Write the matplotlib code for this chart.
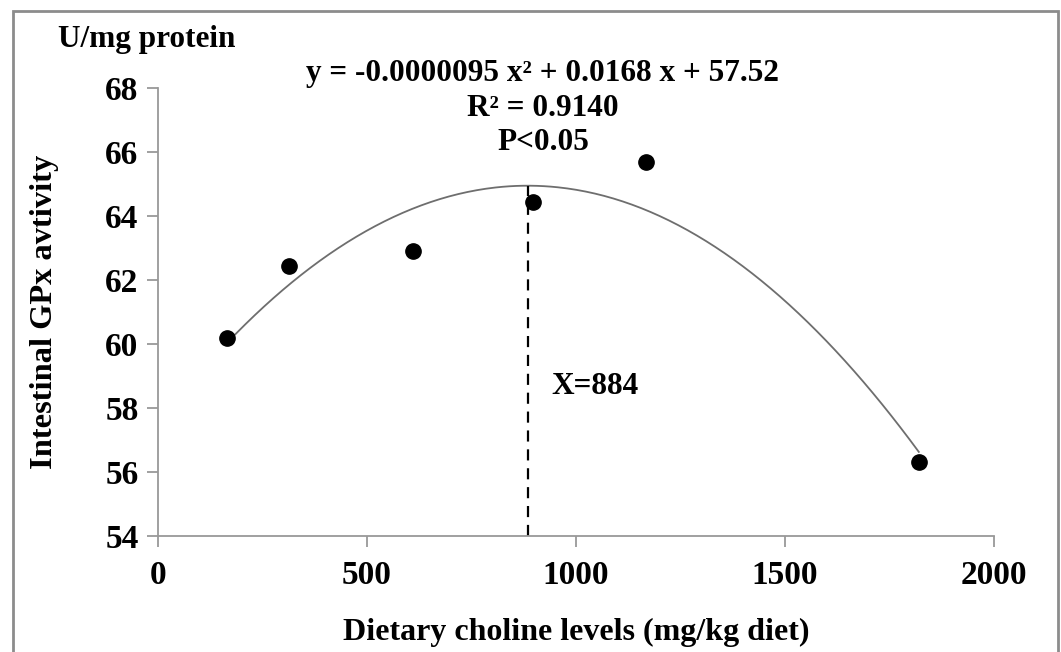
import matplotlib.pyplot as plt
import numpy as np
from matplotlib.patches import Rectangle

plt.rcParams['font.family'] = ['Liberation Serif', 'DejaVu Serif']
plt.rcParams['font.weight'] = 'bold'

# data
choline = [165, 313, 610, 897, 1167, 1820]
gpx = [60.2, 62.44, 62.9, 64.44, 65.69, 56.31]

# fitted quadratic from the equation shown
coef = [-0.0000095, 0.0168, 57.52]
x_opt = 884

xticks = [0, 500, 1000, 1500, 2000]
yticks = [54, 56, 58, 60, 62, 64, 66, 68]

fig = plt.figure(figsize=(10.61, 6.52), dpi=100)
ax = fig.add_axes([0.1489, 0.1779, 0.788, 0.6871])

# grey frame round the whole figure
fig.patches.append(Rectangle((13 / 1061, -0.05), 1045 / 1061, 1.05 - 11 / 652,
                             transform=fig.transFigure, fill=False,
                             edgecolor='#8c8c8c', linewidth=2))

xs = np.linspace(min(choline), max(choline), 300)
ax.plot(xs, np.polyval(coef, xs), color='#6e6e6e', linewidth=1.3)
ax.plot(choline, gpx, 'o', color='black', markersize=11)
ax.plot([x_opt, x_opt], [54, np.polyval(coef, x_opt)], color='black',
        linestyle=(0, (5, 3.5)), linewidth=1.6)

ax.set_xlim(0, 2000)
ax.set_ylim(54, 68)
ax.set_xticks(xticks)
ax.set_yticks(yticks)
for side in ['top', 'right']:
    ax.spines[side].set_visible(False)
for side in ['left', 'bottom']:
    ax.spines[side].set_color('#999999')
    ax.spines[side].set_linewidth(1.3)
ax.tick_params(direction='out', length=8, width=1.3, color='#999999',
               labelsize=24)
ax.tick_params(axis='x', pad=9)
ax.tick_params(axis='y', pad=6)

ax.set_xlabel('Dietary choline levels (mg/kg diet)', fontsize=23,
              fontweight='bold', labelpad=20)
ax.set_ylabel('Intestinal GPx avtivity', fontsize=23.4, fontweight='bold',
              labelpad=33)

fig.text(58 / 1061, 1 - 40 / 652, 'U/mg protein', fontsize=22.5,
         fontweight='bold', va='center', ha='left')
fig.text(543 / 1061, 1 - 73 / 652, 'y = -0.0000095 x\u00b2 + 0.0168 x + 57.52',
         fontsize=22.5, fontweight='bold', ha='center', va='center')
fig.text(543 / 1061, 1 - 109 / 652, 'R\u00b2 = 0.9140', fontsize=22.5,
         fontweight='bold', ha='center', va='center')
fig.text(543 / 1061, 1 - 143 / 652, 'P<0.05', fontsize=22.5,
         fontweight='bold', ha='center', va='center')
ax.text(940, 58.66, 'X=884', fontsize=22.5, fontweight='bold',
        ha='left', va='center')

fig.savefig('out.png', dpi=100)
